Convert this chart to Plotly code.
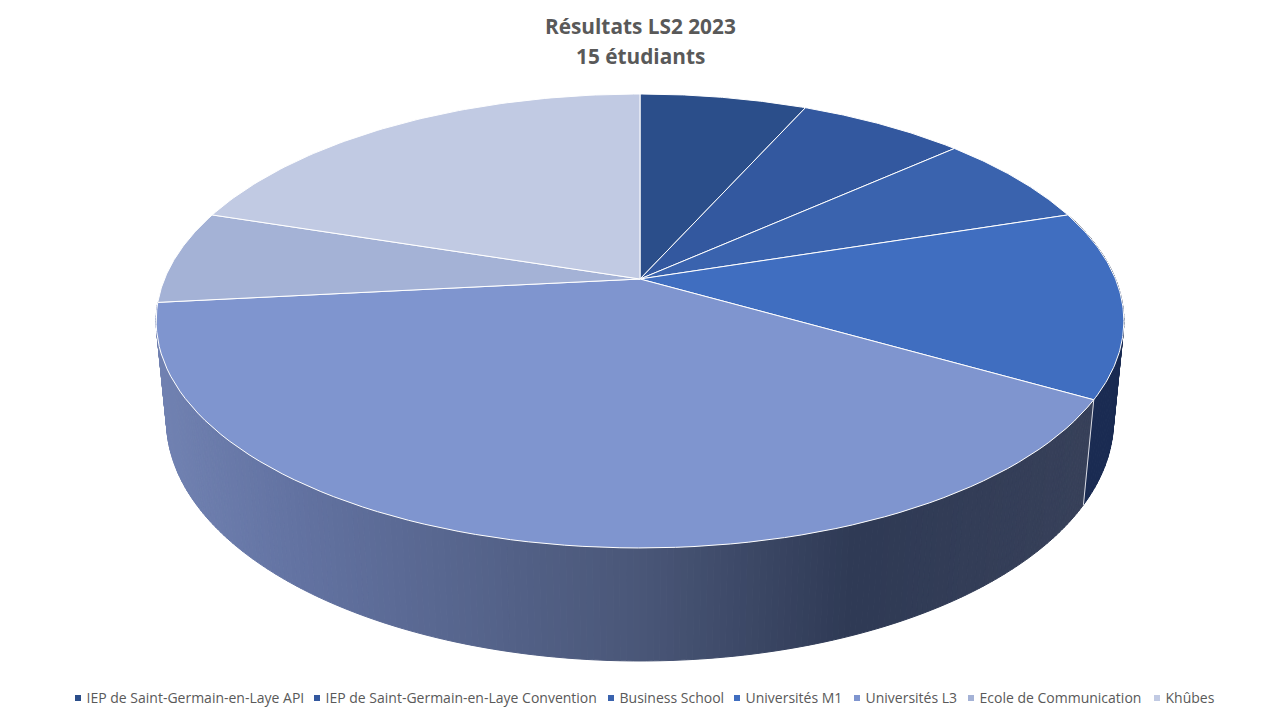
import numpy as np
import plotly.graph_objects as go

# Données
categories = ['IEP de Saint-Germain-en-Laye API', 'IEP de Saint-Germain-en-Laye Convention',
              'Business School', 'Universités M1', 'Universités L3', 'Ecole de Communication', 'Khûbes']
effectifs = [1, 1, 1, 2, 6, 1, 3]
couleurs = ['#2B4E8A', '#33589F', '#3A63AE', '#406EC0', '#7F95CF', '#A4B2D6', '#C1CAE3']
couleur_cote_m1 = '#1A2B52'

# Position (px) du carré de chaque entrée de légende
legende_px = [78, 317, 611, 737, 857, 971, 1157]
LEGENDE_Y = 698
LEGENDE_ECART = 8.5

# Projection perspective du disque (pixels de l'image)
CX, CY = 640, 279
A, B = 475.5, 219.2
K, M, C = 0.185, 0.0212, 100.2

# Dégradé du grand côté en fonction de x
grad_x = [158, 300, 640, 850, 1090]
grad_r = [114, 99, 74, 47, 56]
grad_g = [131, 115, 87, 58, 65]
grad_b = [179, 162, 120, 85, 90]


def projette(theta, bas=False):
    # theta en degrés, 0 = arrière du disque, sens horaire
    t = np.radians(theta)
    X, Y = np.sin(t), np.cos(t)
    if bas:
        w = 1 + K * Y + M
        return CX + A * X / w, CY + (-B * Y + C) / w
    w = 1 + K * Y
    return CX + A * X / w, CY - B * Y / w


# Une bande du côté entre deux angles
def bande(fig, a0, a1, coul):
    xh, yh = projette(np.array([a0, a1]))
    xb, yb = projette(np.array([a0, a1]), bas=True)
    fig.add_trace(go.Scatter(x=[xh[0], xh[1], xb[1], xb[0], xh[0]], y=[yh[0], yh[1], yb[1], yb[0], yh[0]],
                             mode='lines', fill='toself', fillcolor=coul,
                             line=dict(color=coul, width=1),
                             hoverinfo='skip', showlegend=False))


fig = go.Figure()

bornes = np.concatenate([[0], np.cumsum(effectifs) * 360 / sum(effectifs)])

# Côté de Universités M1 (dessiné avant le dessus)
pas = np.linspace(bornes[3], bornes[4], 49)
for a0, a1 in zip(pas[:-1], pas[1:]):
    bande(fig, a0, a1, couleur_cote_m1)

# Grand côté : bandes fines pour le dégradé
pas = np.linspace(bornes[4], bornes[5], 217)
for a0, a1 in zip(pas[:-1], pas[1:]):
    xb, yb = projette(np.array([a0, a1]), bas=True)
    xm = (xb[0] + xb[1]) / 2
    coul = 'rgb(%d,%d,%d)' % (np.interp(xm, grad_x, grad_r), np.interp(xm, grad_x, grad_g),
                              np.interp(xm, grad_x, grad_b))
    bande(fig, a0, a1, coul)

# Trait blanc entre les deux côtés
xa, ya = projette(bornes[4])
xb, yb = projette(bornes[4], bas=True)
fig.add_trace(go.Scatter(x=[xa, xb], y=[ya, yb], mode='lines', line=dict(color='#D9DCE6', width=1),
                         hoverinfo='skip', showlegend=False))

# Dessus du camembert
for i, nom in enumerate(categories):
    angles = np.linspace(bornes[i], bornes[i + 1], 80)
    xs, ys = projette(angles)
    fig.add_trace(go.Scatter(x=np.concatenate([[CX], xs, [CX]]), y=np.concatenate([[CY], ys, [CY]]),
                             mode='lines', fill='toself', fillcolor=couleurs[i],
                             line=dict(color='white', width=1), name=nom,
                             hovertemplate=f'{nom}: {effectifs[i]}<extra></extra>', showlegend=False))

# Légende : carrés + texte, la légende plotly ne permet pas des écarts aussi serrés
fig.add_trace(go.Scatter(x=legende_px, y=[LEGENDE_Y] * len(categories), mode='markers',
                         marker=dict(symbol='square', size=6, color=couleurs),
                         hoverinfo='skip', showlegend=False, cliponaxis=False))
fig.add_trace(go.Scatter(x=[p + LEGENDE_ECART for p in legende_px], y=[LEGENDE_Y + 1] * len(categories),
                         mode='text', text=categories, textposition='middle right',
                         textfont=dict(family='Open Sans', size=14, color='#595959'),
                         hoverinfo='skip', showlegend=False, cliponaxis=False))

fig.update_layout(
    width=1280, height=720,
    margin=dict(l=0, r=0, t=0, b=0),
    paper_bgcolor='white', plot_bgcolor='white',
    xaxis=dict(range=[0, 1280], visible=False, fixedrange=True),
    yaxis=dict(range=[720, 0], visible=False, fixedrange=True),
    annotations=[
        dict(x=640, y=26, xref='x', yref='y', text='<b>Résultats LS2 2023</b>', showarrow=False,
             font=dict(family='Open Sans', size=20.8, color='#595959')),
        dict(x=640, y=56, xref='x', yref='y', text='<b>15 étudiants</b>', showarrow=False,
             font=dict(family='Open Sans', size=20.8, color='#595959')),
    ],
)

fig.write_html("out.html", config=dict(displayModeBar=False),
               post_script="document.body.style.margin='0';")
